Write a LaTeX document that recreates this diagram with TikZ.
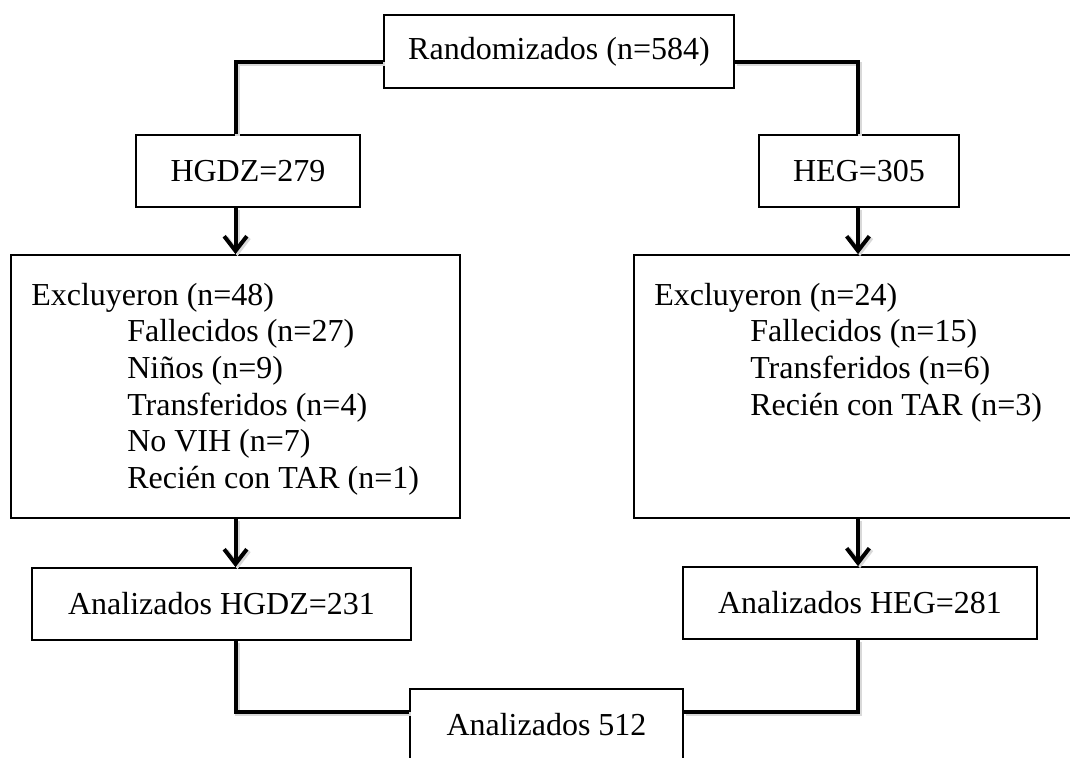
\documentclass[tikz,border=0pt]{standalone}
\usepackage{fontspec}
\setmainfont{Liberation Serif}
\usetikzlibrary{arrows.meta,calc}
\begin{document}
\begin{tikzpicture}[x=0.75pt,y=-0.75pt,
  box/.style={draw=black, line width=1.3pt, fill=white, rectangle, inner sep=0pt, font=\fontsize{24}{27.5}\selectfont},
  conn/.style={line width=3pt, line cap=butt, line join=miter,
    preaction={draw=black!15, line width=3.5pt, transform canvas={xshift=1.5pt, yshift=-1.5pt}}},
  arr/.style={conn, -{Straight Barb[length=11pt,width=17pt]}},
  lst/.style={inner sep=0pt, anchor=base west, font=\fontsize{24}{27.5}\selectfont}
]
\useasboundingbox (0,0) rectangle (1070,757);

\node[box, minimum width=262.5pt, minimum height=54.75pt] (top) at (559,51.5) {Randomizados (n=584)};
\node[box, minimum width=168pt, minimum height=54pt] (hgdz) at (248,171) {HGDZ=279};
\node[box, minimum width=150pt, minimum height=54pt] (heg) at (859,171) {HEG=305};
\node[box, minimum width=336.75pt, minimum height=197.25pt] (exL) at (235.5,386.5) {};
\node[box, minimum width=336pt, minimum height=197.25pt] (exR) at (858,386.5) {};
\node[box, minimum width=284.25pt, minimum height=54pt] (anL) at (221.5,604) {Analizados HGDZ=231};
\node[box, minimum width=265.5pt, minimum height=54pt] (anR) at (860,603) {Analizados HEG=281};
\node[box, minimum width=204.75pt, minimum height=54pt] (fin) at (546.5,725) {Analizados 512};

\node[lst] (exLt) at (31,305) {\begin{tabular}[t]{@{}l@{}}
Excluyeron (n=48)\\
\hspace*{72pt}Fallecidos (n=27)\\
\hspace*{72pt}Niños (n=9)\\
\hspace*{72pt}Transferidos (n=4)\\
\hspace*{72pt}No VIH (n=7)\\
\hspace*{72pt}Recién con TAR (n=1)
\end{tabular}};
\node[lst] (exRt) at (654,305) {\begin{tabular}[t]{@{}l@{}}
Excluyeron (n=24)\\
\hspace*{72pt}Fallecidos (n=15)\\
\hspace*{72pt}Transferidos (n=6)\\
\hspace*{72pt}Recién con TAR (n=3)
\end{tabular}};

\draw[conn] ($(top.west)+(0,10.5)$) -| (exL.north |- hgdz.north);
\draw[conn] ($(top.east)+(0,10.5)$) -| (exR.north |- heg.north);
\draw[arr] (exL.north |- hgdz.south) -- (exL.north);
\draw[arr] (exR.north |- heg.south) -- (exR.north);
\draw[arr] (exL.south) -- (exL.south |- anL.north);
\draw[arr] (exR.south) -- (exR.south |- anR.north);
\draw[conn] (exL.south |- anL.south) |- ($(fin.west)+(0,-13)$);
\draw[conn] (exR.south |- anR.south) |- ($(fin.east)+(0,-13)$);
\end{tikzpicture}
\end{document}
